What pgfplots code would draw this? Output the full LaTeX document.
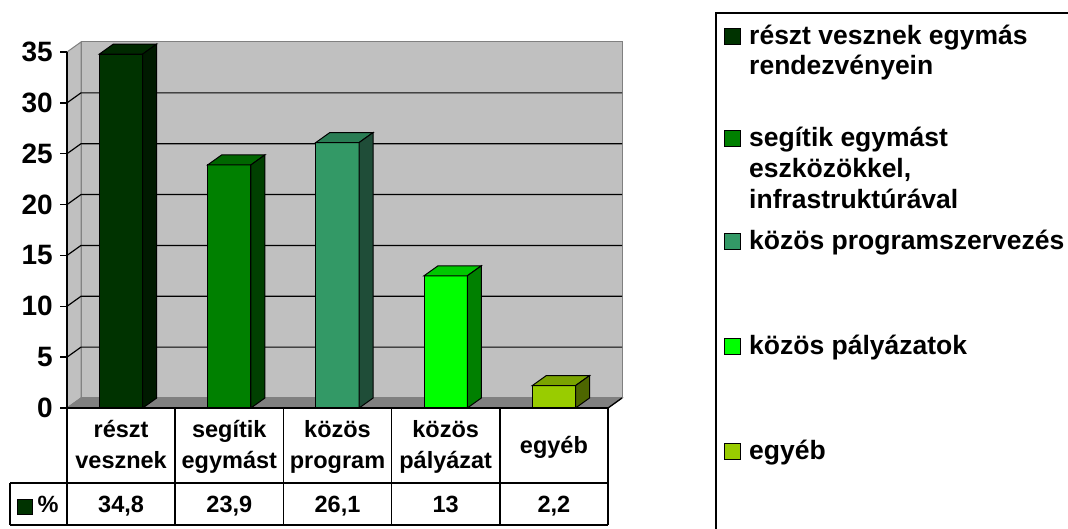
\documentclass[border=0pt]{standalone}
\usepackage{fontspec}
\setmainfont{Liberation Sans}
\usepackage{pgfplots}
\pgfplotsset{compat=1.18}
\definecolor{wall}{HTML}{C0C0C0}
\definecolor{wallln}{HTML}{808080}
\definecolor{floorc}{HTML}{808080}
\definecolor{cA}{HTML}{003300}
\definecolor{cAt}{HTML}{002900}
\definecolor{cAs}{HTML}{001A00}
\definecolor{cB}{HTML}{008000}
\definecolor{cBt}{HTML}{006600}
\definecolor{cBs}{HTML}{004000}
\definecolor{cC}{HTML}{339966}
\definecolor{cCt}{HTML}{2A7D54}
\definecolor{cCs}{HTML}{1F4D38}
\definecolor{cD}{HTML}{00FF00}
\definecolor{cDt}{HTML}{00C800}
\definecolor{cDs}{HTML}{008000}
\definecolor{cE}{HTML}{99CC00}
\definecolor{cEt}{HTML}{7AA300}
\definecolor{cEs}{HTML}{4D6600}
\begin{document}
\begin{tikzpicture}[x=1pt,y=1pt]
\useasboundingbox (0,0) rectangle (1068,529);
\begin{axis}[at={(67pt,121pt)}, anchor=south west, scale only axis,
  width=541pt, height=356pt, xmin=0, xmax=5, ymin=0, ymax=35,
  hide axis, clip=false, no markers]
% back wall
\addplot[fill=wall, draw=wallln, line width=1pt] coordinates {(0.1294,0.983) (5.1294,0.983) (5.1294,35.983) (0.1294,35.983)} -- cycle;
% side wall
\addplot[fill=wall, draw=wallln, line width=1pt] coordinates {(0,0) (0.1294,0.983) (0.1294,35.983) (0,35)} -- cycle;
% gridlines
\draw[black, line width=1.2pt] (axis cs:0,5) -- (axis cs:0.1294,5.983) -- (axis cs:5.1294,5.983);
\draw[black, line width=1.2pt] (axis cs:0,10) -- (axis cs:0.1294,10.983) -- (axis cs:5.1294,10.983);
\draw[black, line width=1.2pt] (axis cs:0,15) -- (axis cs:0.1294,15.983) -- (axis cs:5.1294,15.983);
\draw[black, line width=1.2pt] (axis cs:0,20) -- (axis cs:0.1294,20.983) -- (axis cs:5.1294,20.983);
\draw[black, line width=1.2pt] (axis cs:0,25) -- (axis cs:0.1294,25.983) -- (axis cs:5.1294,25.983);
\draw[black, line width=1.2pt] (axis cs:0,30) -- (axis cs:0.1294,30.983) -- (axis cs:5.1294,30.983);
% floor
\addplot[fill=floorc, draw=wallln, line width=1pt] coordinates {(0,0) (5,0) (5.1294,0.983) (0.1294,0.983)} -- cycle;
\draw[black, line width=1.3pt] (axis cs:5,0) -- (axis cs:5.1294,0.983);
% y axis line and ticks
\draw[black, line width=1.3pt] (axis cs:0,0) -- (axis cs:0,35);
\pgfplotsinvokeforeach{0,5,10,15,20,25,30,35}{
  \draw[black, line width=1.3pt] (axis cs:0,#1) -- ++(-7pt,0pt);
  \node[anchor=east, inner sep=0pt, font=\fontsize{28pt}{30pt}\selectfont\bfseries] at ([xshift=-14pt]axis cs:0,#1) {#1};
}
% bar 1: 34.8
\addplot[fill=cA, draw=black, line width=1pt] coordinates {(0.3,0) (0.7,0) (0.7,34.8) (0.3,34.8)} -- cycle;
\addplot[fill=cAt, draw=black, line width=1pt] coordinates {(0.3,34.8) (0.7,34.8) (0.8294,35.783) (0.4294,35.783)} -- cycle;
\addplot[fill=cAs, draw=black, line width=1pt] coordinates {(0.7,0) (0.8294,0.983) (0.8294,35.783) (0.7,34.8)} -- cycle;
% bar 2: 23.9
\addplot[fill=cB, draw=black, line width=1pt] coordinates {(1.3,0) (1.7,0) (1.7,23.9) (1.3,23.9)} -- cycle;
\addplot[fill=cBt, draw=black, line width=1pt] coordinates {(1.3,23.9) (1.7,23.9) (1.8294,24.883) (1.4294,24.883)} -- cycle;
\addplot[fill=cBs, draw=black, line width=1pt] coordinates {(1.7,0) (1.8294,0.983) (1.8294,24.883) (1.7,23.9)} -- cycle;
% bar 3: 26.1
\addplot[fill=cC, draw=black, line width=1pt] coordinates {(2.3,0) (2.7,0) (2.7,26.1) (2.3,26.1)} -- cycle;
\addplot[fill=cCt, draw=black, line width=1pt] coordinates {(2.3,26.1) (2.7,26.1) (2.8294,27.083) (2.4294,27.083)} -- cycle;
\addplot[fill=cCs, draw=black, line width=1pt] coordinates {(2.7,0) (2.8294,0.983) (2.8294,27.083) (2.7,26.1)} -- cycle;
% bar 4: 13
\addplot[fill=cD, draw=black, line width=1pt] coordinates {(3.3,0) (3.7,0) (3.7,13) (3.3,13)} -- cycle;
\addplot[fill=cDt, draw=black, line width=1pt] coordinates {(3.3,13) (3.7,13) (3.8294,13.983) (3.4294,13.983)} -- cycle;
\addplot[fill=cDs, draw=black, line width=1pt] coordinates {(3.7,0) (3.8294,0.983) (3.8294,13.983) (3.7,13)} -- cycle;
% bar 5: 2.2
\addplot[fill=cE, draw=black, line width=1pt] coordinates {(4.3,0) (4.7,0) (4.7,2.2) (4.3,2.2)} -- cycle;
\addplot[fill=cEt, draw=black, line width=1pt] coordinates {(4.3,2.2) (4.7,2.2) (4.8294,3.183) (4.4294,3.183)} -- cycle;
\addplot[fill=cEs, draw=black, line width=1pt] coordinates {(4.7,0) (4.8294,0.983) (4.8294,3.183) (4.7,2.2)} -- cycle;
\end{axis}
% data table
\begin{scope}[line width=1.5pt]
\draw (67,121) -- (608,121);
\draw (10,46) -- (608,46);
\draw (10,4) -- (608,4);
\draw (10,46) -- (10,4);
\foreach \xx in {67,175.2,283.4,391.6,499.8,608} { \draw (\xx,121) -- (\xx,4); }
\end{scope}
\begin{scope}[every node/.style={inner sep=0pt, font=\fontsize{23.5pt}{26pt}\selectfont\bfseries}]
\node[anchor=base] at (121.1,91) {részt};
\node[anchor=base] at (121.1,60) {vesznek};
\node[anchor=base] at (229.3,91) {segítik};
\node[anchor=base] at (229.3,60) {egymást};
\node[anchor=base] at (337.5,91) {közös};
\node[anchor=base] at (337.5,60) {program};
\node[anchor=base] at (445.7,91) {közös};
\node[anchor=base] at (445.7,60) {pályázat};
\node[anchor=base] at (553.9,75) {egyéb};
\node[anchor=base] at (121.1,16) {34,8};
\node[anchor=base] at (229.3,16) {23,9};
\node[anchor=base] at (337.5,16) {26,1};
\node[anchor=base] at (445.7,16) {13};
\node[anchor=base] at (553.9,16) {2,2};
\node[anchor=base west] at (37.5,16) {\%};
\end{scope}
\draw[fill=cA, draw=black, line width=1pt] (17,14) rectangle (32,29);
% legend
\draw[black, line width=1.5pt] (716,516) rectangle (1090,-20);
\begin{scope}[every node/.style={inner sep=0pt, anchor=base west, font=\fontsize{26.5pt}{30pt}\selectfont\bfseries}]
\draw[fill=cA, line width=1pt] (724,484) rectangle (740,500);
\node at (749,484) {részt vesznek egymás};
\node at (749,454) {rendezvényein};
\draw[fill=cB, line width=1pt] (724,382) rectangle (740,398);
\node at (749,382) {segítik egymást};
\node at (749,351) {eszközökkel,};
\node at (749,320) {infrastruktúrával};
\draw[fill=cC, line width=1pt] (724,279) rectangle (740,295);
\node at (749,279) {közös programszervezés};
\draw[fill=cD, line width=1pt] (724,174) rectangle (740,190);
\node at (749,174) {közös pályázatok};
\draw[fill=cE, line width=1pt] (724,69) rectangle (740,85);
\node at (749,69) {egyéb};
\end{scope}
\end{tikzpicture}
\end{document}
